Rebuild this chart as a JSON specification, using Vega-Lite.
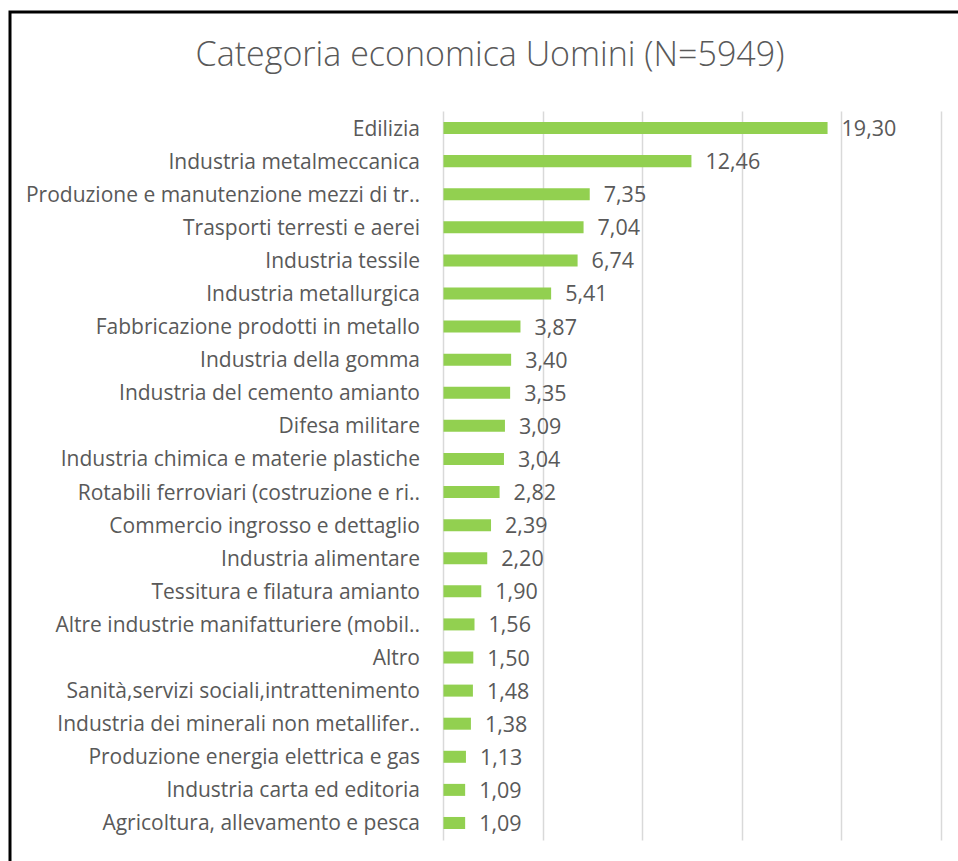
{
  "$schema": "https://vega.github.io/schema/vega-lite/v6.json",
  "autosize": {"type": "none"},
  "padding": {"left": 10, "top": 12, "right": -12, "bottom": -11},
  "width": 960,
  "height": 860,
  "background": "white",
  "title": {
    "text": "Categoria economica Uomini (N=5949)",
    "font": "Open Sans",
    "fontSize": 34,
    "fontWeight": 300,
    "color": "#595959",
    "anchor": "middle",
    "frame": "group",
    "offset": -88,
    "baseline": "alphabetic"
  },
  "config": {
    "view": {"stroke": "#000000", "strokeWidth": 3},
    "locale": {"number": {"decimal": ",", "thousands": ".", "grouping": [3], "currency": ["€", ""]}}
  },
  "data": {
    "values": [
      {"categoria": "Edilizia", "valore": 19.30},
      {"categoria": "Industria metalmeccanica", "valore": 12.46},
      {"categoria": "Produzione e manutenzione mezzi di tr..", "valore": 7.35},
      {"categoria": "Trasporti terresti e aerei", "valore": 7.04},
      {"categoria": "Industria tessile", "valore": 6.74},
      {"categoria": "Industria metallurgica", "valore": 5.41},
      {"categoria": "Fabbricazione prodotti in metallo", "valore": 3.87},
      {"categoria": "Industria della gomma", "valore": 3.40},
      {"categoria": "Industria del cemento amianto", "valore": 3.35},
      {"categoria": "Difesa militare", "valore": 3.09},
      {"categoria": "Industria chimica e materie plastiche", "valore": 3.04},
      {"categoria": "Rotabili ferroviari (costruzione e ri..", "valore": 2.82},
      {"categoria": "Commercio ingrosso e dettaglio", "valore": 2.39},
      {"categoria": "Industria alimentare", "valore": 2.20},
      {"categoria": "Tessitura e filatura amianto", "valore": 1.90},
      {"categoria": "Altre industrie manifatturiere (mobil..", "valore": 1.56},
      {"categoria": "Altro", "valore": 1.50},
      {"categoria": "Sanità,servizi sociali,intrattenimento", "valore": 1.48},
      {"categoria": "Industria dei minerali non metallifer..", "valore": 1.38},
      {"categoria": "Produzione energia elettrica e gas", "valore": 1.13},
      {"categoria": "Industria carta ed editoria", "valore": 1.09},
      {"categoria": "Agricoltura, allevamento e pesca", "valore": 1.09}
    ]
  },
  "encoding": {
    "y": {
      "field": "categoria",
      "type": "nominal",
      "sort": null,
      "scale": {"range": [99, 828], "paddingInner": 0.637, "paddingOuter": 0.333},
      "axis": {
        "orient": "left",
        "offset": -433.5,
        "title": null,
        "domain": false,
        "ticks": false,
        "grid": false,
        "labelPadding": 24,
        "labelOffset": 1.5,
        "labelFont": "Open Sans",
        "labelFontSize": 21,
        "labelColor": "#595959",
        "labelLimit": 0
      }
    },
    "x": {
      "field": "valore",
      "type": "quantitative",
      "scale": {"domain": [-21.78, 26.457], "nice": false, "zero": false},
      "axis": {
        "orient": "top",
        "values": [0, 5, 10, 15, 20, 25],
        "title": null,
        "labels": false,
        "ticks": false,
        "domain": false,
        "grid": true,
        "gridColor": "#d9d9d9",
        "gridWidth": 1.5
      }
    }
  },
  "layer": [
    {"mark": {"type": "bar", "color": "#92D050"}},
    {
      "mark": {"type": "text", "align": "left", "baseline": "middle", "dx": 14, "dy": 2, "font": "Open Sans", "fontSize": 21.5, "color": "#595959"},
      "encoding": {"text": {"field": "valore", "type": "quantitative", "format": ".2f"}}
    }
  ]
}
